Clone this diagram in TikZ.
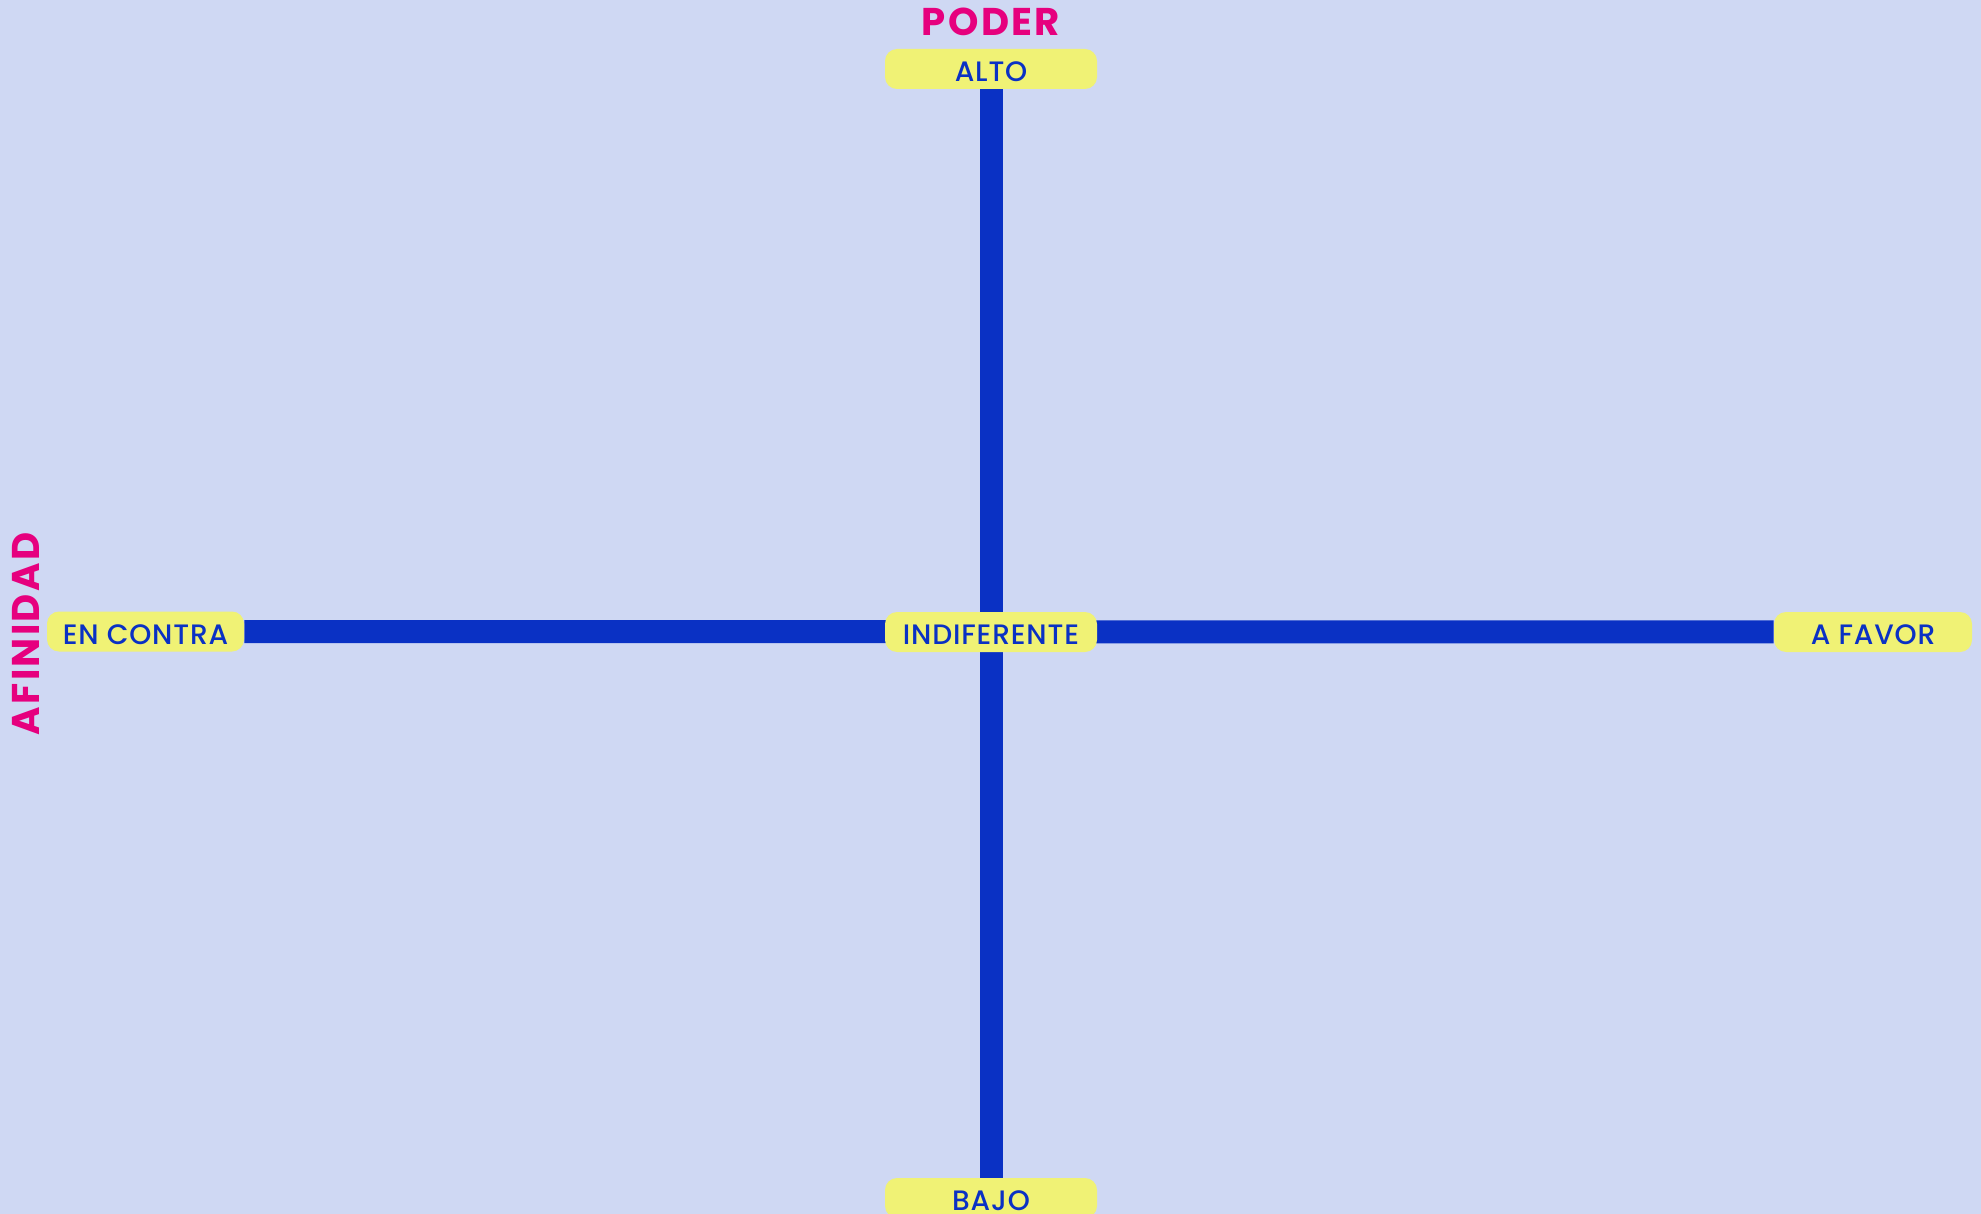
\documentclass[tikz,border=0pt]{standalone}
\usepackage{fontspec}
\setmainfont{Poppins}
\newfontfamily\tagfont{Poppins}[UprightFont=* Medium, LetterSpace=3]
\newfontfamily\axisfont{Poppins}[UprightFont=* Bold, LetterSpace=6]
\usetikzlibrary{backgrounds}
\definecolor{bgblue}{HTML}{CFD8F3}
\definecolor{barblue}{HTML}{0A31C4}
\definecolor{tagyellow}{HTML}{F0F275}
\definecolor{axispink}{HTML}{E6007E}
\begin{document}
\begin{tikzpicture}[
    tag/.style={rectangle, rounded corners=0.24cm, fill=tagyellow,
                 minimum height=0.8cm, minimum width=4.24cm, inner sep=0pt,
                 text height=0.51cm, text depth=0pt,
                 font=\tagfont\fontsize{16}{18}\selectfont, text=barblue},
    axislabel/.style={font=\axisfont\fontsize{22}{24}\selectfont, text=axispink},
    bar/.style={barblue, line width=0.46cm},
  ]
  \useasboundingbox (0,0) rectangle (39.62,-24.28);

  \node[axislabel] (poder) at (19.82,-0.43) {PODER};
  \node[axislabel, rotate=90] (afin) at (0.52,-12.68) {AFINIDAD};

  \node[tag] (alto)   at (19.82,-1.38)  {ALTO};
  \node[tag] (indif)  at (19.82,-12.64) {INDIFERENTE};
  \node[tag] (bajo)   at (19.82,-23.96) {BAJO};
  \node[tag, minimum width=3.94cm] (contra) at (2.91,-12.63)  {EN CONTRA};
  \node[tag, minimum width=3.96cm] (favor)  at (37.46,-12.64) {A FAVOR};

  \begin{scope}[on background layer]
    \fill[bgblue] (0,0) rectangle (39.62,-24.28);
    \draw[bar] (alto) -- (bajo);
    \draw[bar] (contra) -- (favor);
  \end{scope}
\end{tikzpicture}
\end{document}
